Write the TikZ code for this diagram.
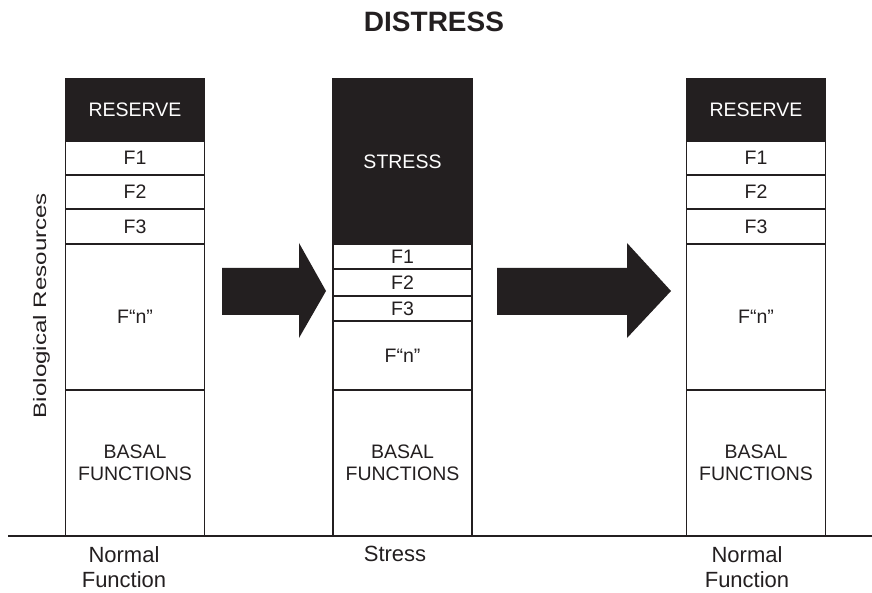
\documentclass[tikz,border=0pt]{standalone}
\usepackage{fontspec}
\setmainfont{Liberation Sans}
\usepackage{graphicx}
\definecolor{ink}{RGB}{35,31,32}
\tikzset{
  cell/.style={draw=ink, line width=1.2pt, inner sep=0pt, minimum width=139pt,
    font=\fontsize{19.5}{22}\selectfont, text=ink, align=center},
  dark/.style={cell, fill=ink, text=white},
  caption/.style={anchor=north, align=center, text=ink, font=\fontsize{22}{25}\selectfont}
}

\begin{document}
\begin{tikzpicture}[x=1pt,y=-1pt]
\useasboundingbox (0,0) rectangle (872,593);

\node [anchor=base, text=ink, font=\bfseries\fontsize{28}{30}\selectfont] (title) at (434,32) {DISTRESS};

\node [rotate=90, anchor=base, text=ink, font=\fontsize{18}{20}\selectfont] (ylab) at (46,305.5) {\scalebox{1.34}[1]{Biological Resources}};

% normal columns
\foreach \c/\x in {L/135, R/756} {
  \node [dark, minimum height=62pt] (res\c) at (\x,110) {RESERVE};
  \node [cell, minimum height=34pt] (fa\c) at (\x,158) {F1};
  \node [cell, minimum height=34pt] (fb\c) at (\x,192) {F2};
  \node [cell, minimum height=35pt] (fc\c) at (\x,226.5) {F3};
  \node [cell, minimum height=146pt] (fn\c) at (\x,317) {F“n”};
  \node [cell, minimum height=146pt] (bas\c) at (\x,463) {BASAL\\FUNCTIONS};
}

% stress column
\node [dark, minimum height=165pt] (str) at (402.5,161.5) {STRESS};
\node [cell, minimum height=25pt] (faM) at (402.5,256.5) {F1};
\node [cell, minimum height=27pt] (fbM) at (402.5,282.5) {F2};
\node [cell, minimum height=25pt] (fcM) at (402.5,308.5) {F3};
\node [cell, minimum height=69pt] (fnM) at (402.5,355.5) {F“n”};
\node [cell, minimum height=146pt] (basM) at (402.5,463) {BASAL\\FUNCTIONS};

% ground
\coordinate (g0) at (8,536);
\coordinate (g1) at (872,536);
\draw [ink, line width=1.6pt] (g0) -- (g1);

\node [caption] (capL) at (124,543) {Normal\\Function};
\node [caption] (capM) at (395,543) {Stress};
\node [caption] (capR) at (747,543) {Normal\\Function};

% block arrows
\fill [ink] (222,268) -- (299,268) -- (299,243) -- (326,291) -- (299,338) -- (299,315) -- (222,315) -- cycle;
\fill [ink] (497,268) -- (627,268) -- (627,243) -- (671,291) -- (627,338) -- (627,315) -- (497,315) -- cycle;
\end{tikzpicture}
\end{document}
